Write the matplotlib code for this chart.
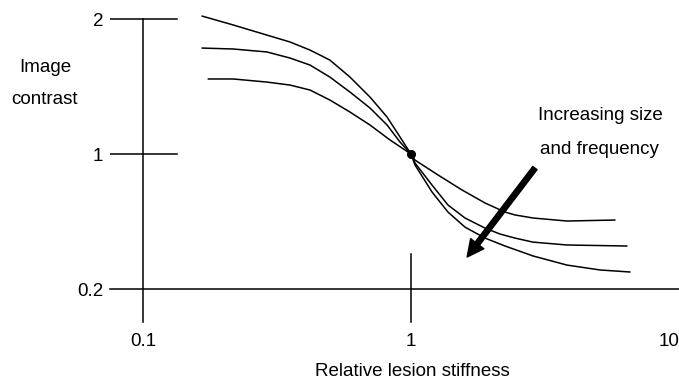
import numpy as np
import matplotlib.pyplot as plt

plt.rcParams['font.family'] = ['Liberation Sans', 'DejaVu Sans']

# relative lesion stiffness (x) and image contrast (y)
x_a = [0.166, 0.217, 0.290, 0.3535, 0.420, 0.498, 0.592, 0.703, 0.814, 0.910,
       1.0, 1.035, 1.198, 1.374, 1.590, 1.889, 2.243, 2.853, 3.820, 5.073, 6.565]
y_a = [2.022, 1.956, 1.881, 1.830, 1.770, 1.696, 1.570, 1.422, 1.274, 1.126,
       1.0, 0.935, 0.775, 0.656, 0.567, 0.502, 0.455, 0.396, 0.342, 0.313, 0.301]

x_b = [0.166, 0.217, 0.290, 0.3535, 0.420, 0.498, 0.592, 0.703, 0.814, 0.910,
       1.0, 1.035, 1.198, 1.374, 1.590, 1.889, 2.148, 2.444, 2.853, 3.820, 6.397]
y_b = [1.785, 1.778, 1.756, 1.711, 1.659, 1.570, 1.459, 1.341, 1.215, 1.089,
       1.0, 0.947, 0.816, 0.698, 0.621, 0.561, 0.526, 0.502, 0.478, 0.461, 0.455]

x_c = [0.175, 0.217, 0.290, 0.3535, 0.420, 0.498, 0.592, 0.703, 0.835,
       1.0, 1.035, 1.261, 1.550, 1.889, 2.243, 2.444, 2.853, 3.820, 5.770]
y_c = [1.556, 1.556, 1.533, 1.511, 1.474, 1.400, 1.311, 1.215, 1.104,
       1.0, 0.964, 0.876, 0.787, 0.710, 0.656, 0.639, 0.621, 0.603, 0.609]

x_ticks = [0.1, 1, 10]
x_tick_labels = ['0.1', '1', '10']
y_ticks = [0.2, 1, 2]
y_tick_labels = ['0.2', '1', '2']


# schematic axis: 0.2 -> 1 takes the same length as 1 -> 2
def fwd(c):
    c = np.asarray(c, dtype=float)
    return np.where(c < 1, (c - 0.2) / 0.8, c)


def inv(p):
    p = np.asarray(p, dtype=float)
    return np.where(p < 1, 0.2 + 0.8 * p, p)


fig = plt.figure(figsize=(6.79, 3.83), dpi=100)
ax = fig.add_axes([0.162, 0.1593, 0.838, 0.8016])
ax.set_xscale('log')
ax.set_yscale('function', functions=(fwd, inv))
ybot = float(inv(-0.244))
ax.set_xlim(0.0753, 10)
ax.set_ylim(ybot, 2.03)
for s in ax.spines.values():
    s.set_visible(False)

lw = 1.1
fs = 13.5
# axis lines drawn by hand like the original sketch
ax.plot([0.0753, 10], [0.2, 0.2], color='black', lw=lw, clip_on=False)
ax.plot([0.1, 0.1], [ybot, 2], color='black', lw=lw, clip_on=False)
for yt in [1, 2]:
    ax.plot([0.0753, 0.134], [yt, yt], color='black', lw=lw)
ax.plot([1, 1], [0.407, ybot], color='black', lw=lw, clip_on=False)

for xs, ys in [(x_a, y_a), (x_b, y_b), (x_c, y_c)]:
    ax.plot(xs, ys, color='black', lw=lw, solid_capstyle='round',
            solid_joinstyle='round')
ax.plot([1], [1], 'o', color='black', markersize=5.5)

ax.set_xticks(x_ticks)
ax.set_xticklabels(x_tick_labels, fontsize=fs)
ax.set_yticks(y_ticks)
ax.set_yticklabels(y_tick_labels, fontsize=fs)
ax.minorticks_off()
ax.tick_params(axis='both', length=0)
ax.tick_params(axis='x', pad=8)
ax.tick_params(axis='y', pad=5)
ax.get_xticklabels()[-1].set_horizontalalignment('right')

fig.text(412 / 679, 1 - 372 / 383, 'Relative lesion stiffness', fontsize=fs,
         ha='center', va='center')
fig.text(45 / 679, 1 - 67 / 383, 'Image', fontsize=fs, ha='center', va='center')
fig.text(45 / 679, 1 - 100 / 383, 'contrast', fontsize=fs, ha='center', va='center')
fig.text(600 / 679, 1 - 116 / 383, 'Increasing size', fontsize=fs, ha='center', va='center')
fig.text(599 / 679, 1 - 150 / 383, 'and frequency', fontsize=fs, ha='center', va='center')

ax.annotate('', xy=(1.62, 0.390), xytext=(2.90, 0.917),
            arrowprops=dict(arrowstyle='simple,head_length=1,head_width=1,tail_width=0.32',
                            mutation_scale=12, color='black', shrinkA=0, shrinkB=0))

fig.savefig('out.png', dpi=100)
